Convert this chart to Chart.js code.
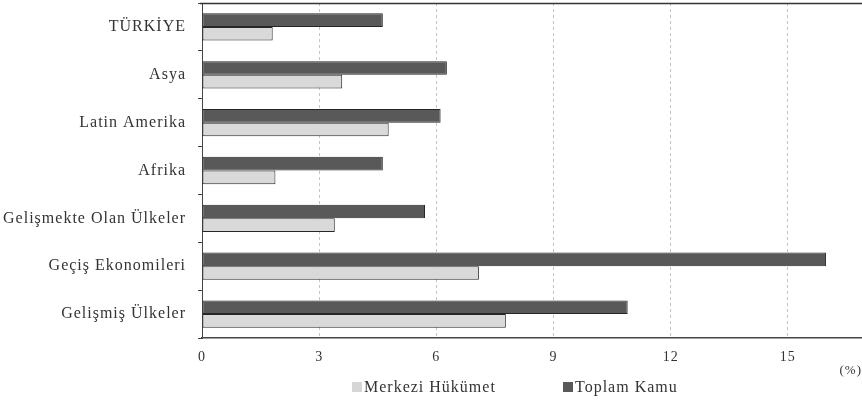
<!DOCTYPE html>
<html><head><meta charset="utf-8">
<script src="https://cdn.jsdelivr.net/npm/chart.js@4"></script>
<style>
html,body{margin:0;padding:0;background:#fff;overflow:hidden}
#wrap{position:relative;width:862px;height:401px}
canvas{position:absolute;left:0;top:0}
.item{position:absolute;top:378px;display:flex;align-items:center;font:16px 'Liberation Serif',serif;letter-spacing:1px;color:#333;white-space:nowrap;line-height:18px}
.box{width:10px;height:10px;margin-right:2px;flex:none}
</style></head><body>
<div id="wrap"><canvas id="c" width="862" height="401"></canvas>
<div class="item" style="left:352px"><span class="box" style="background:#d6d6d6"></span><span id="l1"></span></div>
<div class="item" style="left:563px"><span class="box" style="background:#595959"></span><span id="l2"></span></div>
</div>
<script>
const categories=['TÜRKİYE','Asya','Latin Amerika','Afrika','Gelişmekte Olan Ülkeler','Geçiş Ekonomileri','Gelişmiş Ülkeler'];
const seriesNames=['Toplam Kamu','Merkezi Hükümet'];
const toplamKamu=[4.63,6.27,6.11,4.63,5.71,15.98,10.90];
const merkeziHukumet=[1.81,3.59,4.78,1.88,3.40,7.09,7.78];
const xTicks=[0,3,6,9,12,15];
const unitLabel='(%)';

document.getElementById('l1').textContent=seriesNames[1];
document.getElementById('l2').textContent=seriesNames[0];

const spacing={id:'spacing',
  beforeUpdate(c){c.ctx.letterSpacing='1px';},
  beforeDraw(c){c.ctx.letterSpacing='1px';}};

const topFrame={id:'topFrame',
  afterDraw(c){const a=c.chartArea,ctx=c.ctx;ctx.save();ctx.strokeStyle='#333';ctx.lineWidth=1.5;
    ctx.beginPath();ctx.moveTo(a.left-2,a.top+0.5);ctx.lineTo(a.right,a.top+0.5);ctx.stroke();ctx.restore();}};

function zeroPad(s){s.paddingTop=0;s.paddingBottom=0;s.paddingLeft=0;s.paddingRight=0;}

new Chart(document.getElementById('c'),{
  type:'bar',
  data:{labels:categories,datasets:[
    {label:seriesNames[0],data:toplamKamu,backgroundColor:'#595959',borderColor:'#262626',borderWidth:1,borderSkipped:false},
    {label:seriesNames[1],data:merkeziHukumet,backgroundColor:'#d9d9d9',borderColor:'#262626',borderWidth:1,borderSkipped:false}
  ]},
  plugins:[spacing,topFrame],
  options:{
    indexAxis:'y',responsive:false,animation:false,devicePixelRatio:1,
    layout:{padding:{left:0,right:0,top:3,bottom:23}},
    categoryPercentage:0.57,barPercentage:1.0,
    plugins:{legend:{display:false},tooltip:{enabled:false}},
    scales:{
      y:{type:'category',
        afterFit(s){s.width=202;zeroPad(s);},
        ticks:{font:{family:'Liberation Serif',size:16},color:'#333',padding:12},
        grid:{drawOnChartArea:false,drawTicks:true,tickLength:4,offset:true,color:'#444'},
        border:{display:true,color:'#444',width:1}},
      x:{type:'linear',position:'bottom',min:0,max:16.9,
        afterBuildTicks(s){s.ticks=xTicks.map(v=>({value:v}));},
        afterFit(s){s.height=40;zeroPad(s);},
        ticks:{font:{family:'Liberation Serif',size:14},color:'#333',padding:11},
        grid:{drawTicks:false,color:c=>(c.tick&&c.tick.value===0)?'rgba(0,0,0,0)':'#c4c4c4',lineWidth:1},
        border:{display:true,color:'#444',width:1.5,dash:[3,3]},
        title:{display:true,text:unitLabel,align:'end',font:{family:'Liberation Serif',size:13},color:'#333',padding:{top:0,bottom:0}}}
    }
  }
});
</script>
</body></html>
